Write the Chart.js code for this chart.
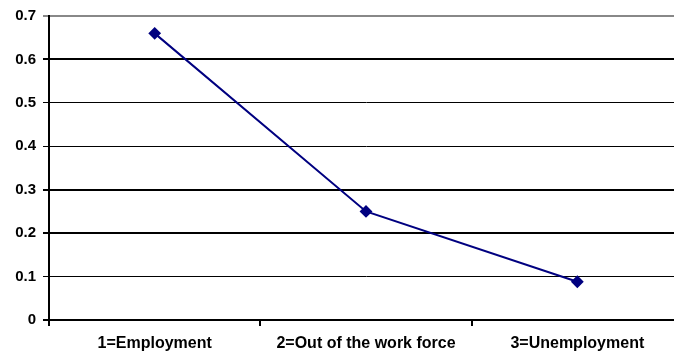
<!DOCTYPE html>
<html>
<head>
<meta charset="utf-8">
<script src="https://cdn.jsdelivr.net/npm/chart.js@4"></script>
<style>
  html, body { margin: 0; padding: 0; background: #fff; overflow: hidden; }
  #wrap { width: 690px; height: 356px; position: relative; }
</style>
</head>
<body>
<div id="wrap"><canvas id="c" width="690" height="356"></canvas></div>
<script>
const categories = ['1=Employment', '2=Out of the work force', '3=Unemployment'];
const values = [0.66, 0.25, 0.088];
const yTicks = [0, 0.1, 0.2, 0.3, 0.4, 0.5, 0.6, 0.7];

const gridWidths = {0: 2, 1: 1, 2: 2, 3: 2, 4: 1, 5: 1, 6: 2, 7: 2};

new Chart(document.getElementById('c'), {
  type: 'line',
  data: {
    labels: categories,
    datasets: [{
      data: values,
      borderColor: '#000080',
      backgroundColor: '#000080',
      borderWidth: 2,
      pointStyle: 'rectRot',
      pointRadius: 5,
      pointBackgroundColor: '#000080',
      pointBorderColor: '#000080',
      tension: 0,
      fill: false
    }]
  },
  options: {
    responsive: false,
    animation: false,
    devicePixelRatio: 1,
    layout: { padding: { top: 16, right: 6, bottom: 0, left: 0 } },
    plugins: { legend: { display: false }, tooltip: { enabled: false } },
    scales: {
      x: {
        type: 'category',
        offset: true,
        grid: { offset: true, drawOnChartArea: false, drawTicks: true, tickLength: 6, color: '#000', lineWidth: 2 },
        border: { display: true, color: '#000', width: 2 },
        ticks: { color: '#000', font: { family: 'Liberation Sans, Arial, sans-serif', size: 16, weight: 'bold' }, padding: 8, maxRotation: 0, autoSkip: false },
        afterFit: (s) => { s.height = 36; }
      },
      y: {
        min: 0,
        max: 0.7,
        afterBuildTicks: (s) => { s.ticks = yTicks.map(v => ({ value: v })); },
        grid: {
          drawTicks: true,
          tickLength: 6,
          color: (ctx) => (ctx.tick && Math.round(ctx.tick.value * 10) === 7) ? '#888888' : '#000000',
          lineWidth: (ctx) => ctx.tick ? (gridWidths[Math.round(ctx.tick.value * 10)] || 1) : 1
        },
        border: { display: true, color: '#000', width: 2 },
        ticks: {
          color: '#000',
          font: { family: 'Liberation Sans, Arial, sans-serif', size: 15, weight: 'bold' },
          padding: 7,
          callback: (v) => v === 0 ? '0' : Number(v).toFixed(1)
        },
        afterFit: (s) => { s.width = 49; }
      }
    }
  }
});
</script>
</body>
</html>
